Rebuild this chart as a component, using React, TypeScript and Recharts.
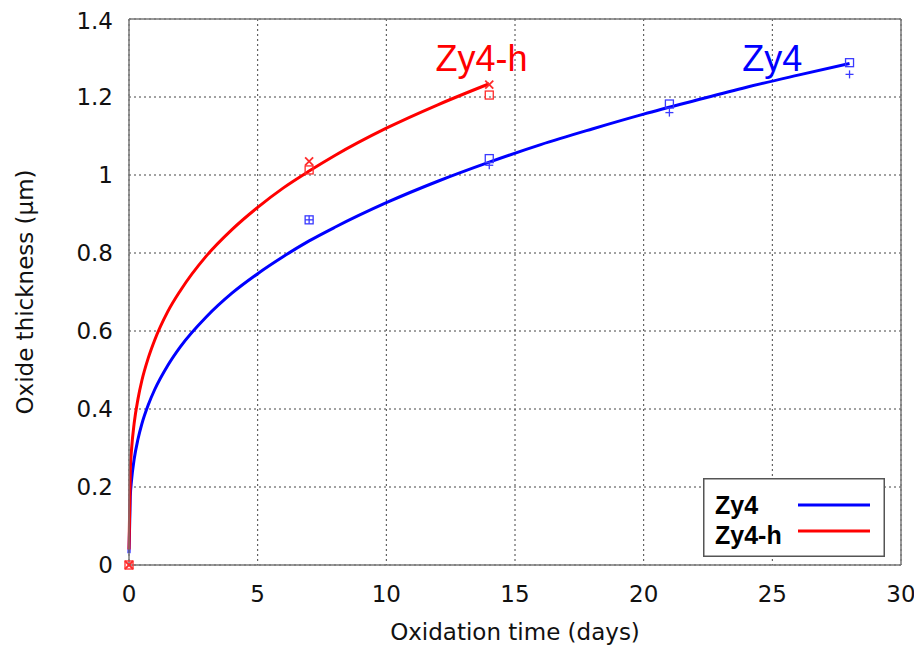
import React from 'react';
import {
  ComposedChart,
  Line,
  Scatter,
  XAxis,
  YAxis,
  CartesianGrid,
  ReferenceLine,
  ReferenceDot,
  Legend,
} from 'recharts';

// ---- axis ticks ----
const xTicks = [0, 5, 10, 15, 20, 25, 30];
const yTicks = [0, 0.2, 0.4, 0.6, 0.8, 1, 1.2, 1.4];

// ---- fitted curves ----
const zy4FitDays = [0, 0.05, 0.1, 0.2, 0.35, 0.5, 0.75, 1, 1.5, 2, 3, 4, 5, 6, 7, 8, 10, 12, 14, 16, 18, 20, 22, 24, 26, 28];
const zy4FitThickness = [0.03, 0.175, 0.218, 0.271, 0.323, 0.362, 0.411, 0.45, 0.511, 0.56, 0.636, 0.697, 0.747, 0.791, 0.831, 0.866, 0.929, 0.984, 1.033, 1.078, 1.118, 1.156, 1.191, 1.225, 1.256, 1.286];

const zy4hFitDays = [0, 0.05, 0.1, 0.2, 0.35, 0.5, 0.75, 1, 1.5, 2, 3, 4, 5, 6, 7, 8, 10, 12, 14];
const zy4hFitThickness = [0.04, 0.243, 0.297, 0.363, 0.426, 0.473, 0.531, 0.577, 0.649, 0.704, 0.792, 0.86, 0.917, 0.967, 1.01, 1.05, 1.12, 1.18, 1.234];

// ---- measured points ----
const zy4SquareDays = [7, 14, 21, 28];
const zy4SquareThickness = [0.885, 1.042, 1.182, 1.288];
const zy4PlusDays = [7, 14, 21, 28];
const zy4PlusThickness = [0.885, 1.025, 1.16, 1.258];
const zy4hCrossDays = [0, 7, 14];
const zy4hCrossThickness = [0, 1.035, 1.232];
const zy4hSquareDays = [0, 7, 14];
const zy4hSquareThickness = [0, 1.013, 1.205];

// ---- series names / annotations ----
const seriesNames = ['Zy4', 'Zy4-h'];
const annotationDays = [25.0, 13.7];
const annotationThickness = [1.3, 1.3];

const BLUE = '#0000ff';
const RED = '#ff0000';
const BLUE_M = '#3a3aff';
const RED_M = '#ff2a2a';

const zip = (xs: number[], ys: number[]) => xs.map((x, i) => ({ x, y: ys[i] }));

const zy4Fit = zip(zy4FitDays, zy4FitThickness);
const zy4hFit = zip(zy4hFitDays, zy4hFitThickness);
const zy4Square = zip(zy4SquareDays, zy4SquareThickness);
const zy4Plus = zip(zy4PlusDays, zy4PlusThickness);
const zy4hCross = zip(zy4hCrossDays, zy4hCrossThickness);
const zy4hSquare = zip(zy4hSquareDays, zy4hSquareThickness);

const SquareShape = (color: string) => (props: any) => {
  const { cx, cy } = props;
  if (cx == null || cy == null) return <g />;
  return <rect x={cx - 4} y={cy - 4} width={8} height={8} fill="none" stroke={color} strokeWidth={1.3} />;
};
const PlusShape = (color: string) => (props: any) => {
  const { cx, cy } = props;
  if (cx == null || cy == null) return <g />;
  return (
    <g stroke={color} strokeWidth={1.3}>
      <line x1={cx - 4} y1={cy} x2={cx + 4} y2={cy} />
      <line x1={cx} y1={cy - 4} x2={cx} y2={cy + 4} />
    </g>
  );
};
const CrossShape = (color: string) => (props: any) => {
  const { cx, cy } = props;
  if (cx == null || cy == null) return <g />;
  return (
    <g stroke={color} strokeWidth={1.8}>
      <line x1={cx - 4} y1={cy - 4} x2={cx + 4} y2={cy + 4} />
      <line x1={cx - 4} y1={cy + 4} x2={cx + 4} y2={cy - 4} />
    </g>
  );
};

const TICK_FONT = "'DejaVu Sans', sans-serif";
const ANN_FONT = "'Liberation Sans', Arial, sans-serif";

const LegendBox = () => (
  <svg width={182} height={79} style={{ display: 'block' }}>
    <rect x={0.75} y={0.75} width={180.5} height={77.5} fill="#fff" stroke="#555" strokeWidth={1.5} />
    <text x={12} y={36} fontFamily={ANN_FONT} fontWeight="bold" fontSize={25} fill="#000">
      {seriesNames[0]}
    </text>
    <text x={12} y={66} fontFamily={ANN_FONT} fontWeight="bold" fontSize={25} fill="#000">
      {seriesNames[1]}
    </text>
    <line x1={95} y1={27} x2={167} y2={27} stroke={BLUE} strokeWidth={3} />
    <line x1={95} y1={53} x2={167} y2={53} stroke={RED} strokeWidth={3} />
  </svg>
);

export default function App() {
  return (
    <ComposedChart
      width={914}
      height={641}
      margin={{ top: 11, right: 21, bottom: 0, left: 0 }}
      style={{ background: '#fff' }}
    >
      <CartesianGrid stroke="#444" strokeDasharray="2 3" strokeWidth={1} />
      <XAxis
        type="number"
        dataKey="x"
        domain={[0, 30]}
        ticks={xTicks}
        height={84}
        axisLine={{ stroke: '#777', strokeWidth: 1.5 }}
        tickLine={false}
        tickSize={6}
        tickMargin={15}
        tick={{ fontSize: 23, fill: '#111', fontFamily: TICK_FONT }}
        label={{
          value: 'Oxidation time (days)',
          position: 'insideBottom',
          offset: 9,
          style: { fontSize: 23, fill: '#111', fontFamily: TICK_FONT },
        }}
      />
      <YAxis
        type="number"
        dataKey="y"
        domain={[0, 1.4]}
        ticks={yTicks}
        width={121}
        axisLine={{ stroke: '#777', strokeWidth: 1.5 }}
        tickLine={false}
        tickSize={6}
        tickMargin={10}
        tick={{ fontSize: 23, fill: '#111', fontFamily: TICK_FONT }}
        label={{
          value: 'Oxide thickness (µm)',
          angle: -90,
          position: 'insideLeft',
          offset: 17,
          style: { fontSize: 23, fill: '#111', fontFamily: TICK_FONT, textAnchor: 'middle' },
        }}
      />
      <ReferenceLine x={30} stroke="#777" strokeWidth={1.5} />
      <ReferenceLine y={1.4} stroke="#777" strokeWidth={1.5} />
      <Line
        data={zy4Fit}
        dataKey="y"
        name={seriesNames[0]}
        type="monotone"
        stroke={BLUE}
        strokeWidth={3}
        dot={false}
        isAnimationActive={false}
      />
      <Line
        data={zy4hFit}
        dataKey="y"
        name={seriesNames[1]}
        type="monotone"
        stroke={RED}
        strokeWidth={3}
        dot={false}
        isAnimationActive={false}
      />
      <Scatter data={zy4Square} dataKey="y" shape={SquareShape(BLUE_M)} isAnimationActive={false} />
      <Scatter data={zy4Plus} dataKey="y" shape={PlusShape(BLUE_M)} isAnimationActive={false} />
      <Scatter data={zy4hSquare} dataKey="y" shape={SquareShape(RED_M)} isAnimationActive={false} />
      <Scatter data={zy4hCross} dataKey="y" shape={CrossShape(RED_M)} isAnimationActive={false} />
      <ReferenceDot
        x={annotationDays[0]}
        y={annotationThickness[0]}
        r={0}
        fill="none"
        stroke="none"
        label={{
          value: seriesNames[0],
          position: 'center',
          style: { fontSize: 36, fill: BLUE, fontFamily: ANN_FONT },
        }}
      />
      <ReferenceDot
        x={annotationDays[1]}
        y={annotationThickness[1]}
        r={0}
        fill="none"
        stroke="none"
        label={{
          value: seriesNames[1],
          position: 'center',
          style: { fontSize: 36, fill: RED, fontFamily: ANN_FONT },
        }}
      />
      <Legend
        layout="vertical"
        align="center"
        verticalAlign="middle"
        content={() => <LegendBox />}
        wrapperStyle={{ position: 'absolute', left: 695, top: 470, width: 182, height: 79 }}
      />
    </ComposedChart>
  );
}
